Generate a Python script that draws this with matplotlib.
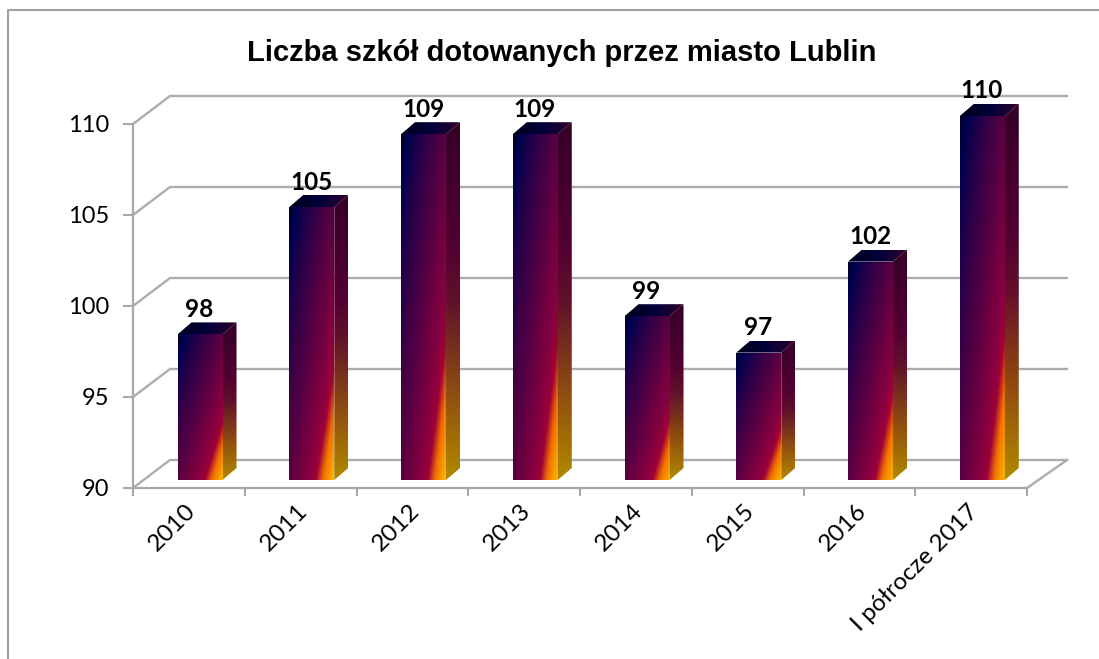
import matplotlib
matplotlib.use('Agg')
import matplotlib.pyplot as plt
import numpy as np
from matplotlib.colors import LinearSegmentedColormap
from matplotlib.patches import Polygon
from matplotlib.transforms import ScaledTranslation

categories = ['2010', '2011', '2012', '2013', '2014', '2015', '2016', 'I półrocze 2017']
values = [98, 105, 109, 109, 99, 97, 102, 110]
y_ticks = [90, 95, 100, 105, 110]
title = 'Liczba szkół dotowanych przez miasto Lublin'

W, H = 1099, 659
# przednia plaszczyzna wykresu w pikselach
LEFT, RIGHT, TOP, BOTTOM = 133, 1027, 124, 488

plt.rcParams['font.family'] = ['Lato', 'DejaVu Sans']

front_cmap = LinearSegmentedColormap.from_list('front', [
    (0.00, '#00002c'), (0.08, '#00004e'), (0.25, '#2a0048'), (0.50, '#5a0042'),
    (0.72, '#880040'), (0.80, '#a00036'), (0.88, '#f07000'), (1.00, '#ffb800')])
side_cmap = LinearSegmentedColormap.from_list('side', [
    (0.00, '#b08a00'), (0.25, '#904a10'), (0.50, '#62102a'), (0.65, '#520030'),
    (1.00, '#340028')])
top_cmap = LinearSegmentedColormap.from_list('top', ['#000018', '#00003a', '#30002c'])


def px_x(p):
    return p / (RIGHT - LEFT) * len(categories)


def px_y(p):
    return p / (BOTTOM - TOP) * (y_ticks[-1] - y_ticks[0])


def face(ax, img, cmap, pts):
    xs = [p[0] for p in pts]
    ys = [p[1] for p in pts]
    im = ax.imshow(img, cmap=cmap, vmin=0, vmax=1, origin='lower', aspect='auto',
                   extent=(min(xs), max(xs), min(ys), max(ys)), zorder=3,
                   interpolation='bilinear')
    im.set_clip_path(Polygon(pts, closed=True, transform=ax.transData))
    # slupek 110 wystaje ponad os
    im.set_clip_box(ax.figure.bbox)


def bar3d(ax, i, value):
    # slupek stoi w glebi: 11 px w prawo, 8 px w gore
    x0 = i + 0.3 + px_x(11)
    x1 = x0 + px_x(45)
    y0 = y_ticks[0] + px_y(8)
    y1 = value + px_y(8)
    dx, dy = px_x(14), px_y(12)

    u, v = np.meshgrid(np.linspace(0, 1, 100), np.linspace(0, 1, 300))
    face(ax, u * 0.5 + (1 - v) * 0.5, front_cmap,
         [(x0, y0), (x1, y0), (x1, y1), (x0, y1)])
    face(ax, v, side_cmap,
         [(x1, y0), (x1 + dx, y0 + dy), (x1 + dx, y1 + dy), (x1, y1)])
    face(ax, u, top_cmap,
         [(x0, y1), (x1, y1), (x1 + dx, y1 + dy), (x0 + dx, y1 + dy)])
    ax.text((x0 + x1) / 2 - px_x(0.5), y1 + dy + px_y(13), str(value), ha='center', va='center',
            fontsize=17.5, fontweight='bold', color='black', zorder=5)


def main():
    fig = plt.figure(figsize=(W / 100, H / 100), dpi=100)
    ax = fig.add_axes([LEFT / W, 1 - BOTTOM / H, (RIGHT - LEFT) / W, (BOTTOM - TOP) / H])
    ax.patch.set_alpha(0)

    for s in ['top', 'right']:
        ax.spines[s].set_visible(False)
    for s in ['left', 'bottom']:
        ax.spines[s].set_color('#a8a8a8')
        ax.spines[s].set_linewidth(1.6)

    # siatka 3D
    wall_x, wall_y = px_x(37), px_y(28)
    n = len(categories)
    for y in y_ticks:
        ax.plot([0, wall_x, n + px_x(40)], [y, y + wall_y, y + wall_y], color='#adadad',
                lw=1.7, clip_on=False, zorder=1, solid_joinstyle='miter')
    ax.plot([n, n + px_x(40)], [y_ticks[0], y_ticks[0] + wall_y], color='#adadad', lw=1.7,
            clip_on=False, zorder=1)

    for i, v in enumerate(values):
        bar3d(ax, i, v)

    ax.set_xlim(0, n)
    ax.set_ylim(y_ticks[0], y_ticks[-1])

    ax.set_yticks(y_ticks)
    ax.tick_params(axis='y', labelsize=17, length=7, width=1.5, color='#a8a8a8', pad=10)
    ax.set_xticks(range(n + 1))
    ax.set_xticklabels([])
    ax.tick_params(axis='x', which='major', length=6, width=1.5, color='#a8a8a8')
    ax.set_xticks(np.arange(n) + 0.5, minor=True)
    ax.set_xticklabels(categories, minor=True, rotation=45, ha='right', rotation_mode='anchor',
                       fontsize=17.5)
    ax.tick_params(axis='x', which='minor', length=0, pad=9)
    shift = ScaledTranslation(-4 / 100, 0, fig.dpi_scale_trans)
    for label in ax.get_xticklabels(minor=True):
        label.set_transform(label.get_transform() + shift)

    fig.text(562 / W, 1 - 53 / H, title, ha='center', va='center', fontsize=21,
             fontweight='bold', family='Liberation Sans')

    # ramka wykresu - tylko lewa i gorna krawedz
    frame = fig.add_axes([0, 0, 1, 1])
    frame.axis('off')
    frame.set_xlim(0, W)
    frame.set_ylim(H, 0)
    frame.patch.set_alpha(0)
    frame.plot([8, 8, W], [H, 10, 10], color='#a0a0a0', lw=1.5)

    fig.savefig('out.png', dpi=100)


if __name__ == '__main__':
    main()
